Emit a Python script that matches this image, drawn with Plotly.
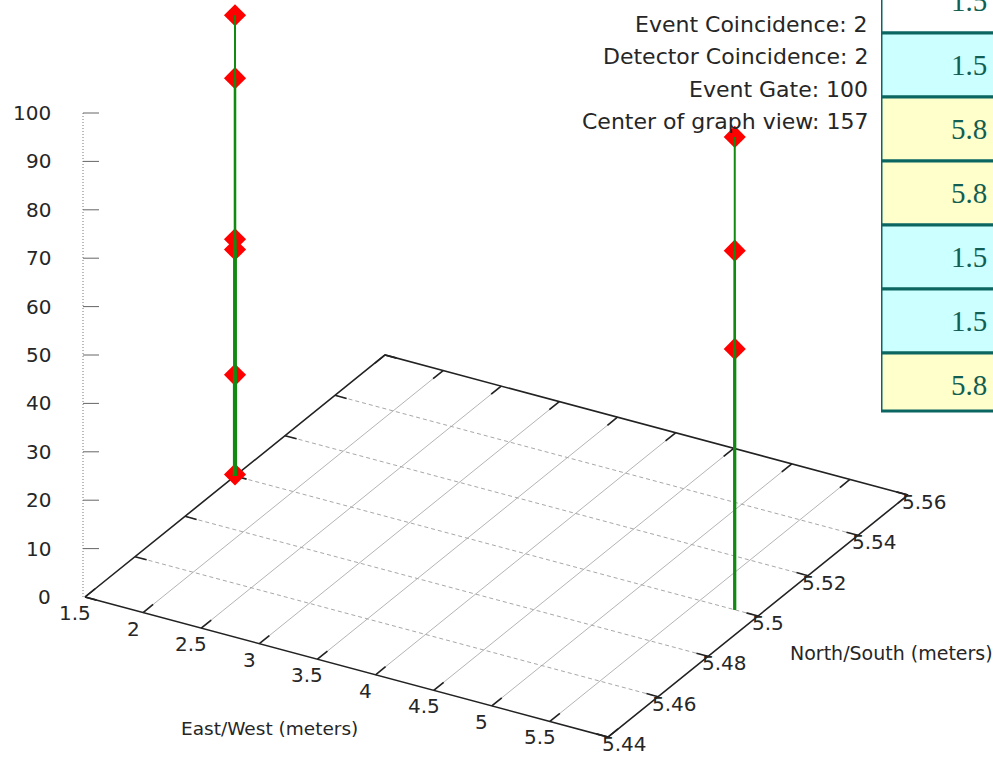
import plotly.graph_objects as go

# ---------------- data ----------------
ew_ticks = [1.5, 2, 2.5, 3, 3.5, 4, 4.5, 5, 5.5, 6]
ew_labels = ["1.5", "2", "2.5", "3", "3.5", "4", "4.5", "5", "5.5", ""]
ns_ticks = [5.44, 5.46, 5.48, 5.5, 5.52, 5.54, 5.56]
ns_labels = ["5.44", "5.46", "5.48", "5.5", "5.52", "5.54", "5.56"]
z_ticks = [0, 10, 20, 30, 40, 50, 60, 70, 80, 90, 100]
z_labels = ["0", "10", "20", "30", "40", "50", "60", "70", "80", "90", "100"]

# detected events: east/west position, north/south position, value
event_ew = [1.5, 1.5, 1.5, 1.5, 1.5, 1.5, 5.8, 5.8, 5.8]
event_ns = [5.5, 5.5, 5.5, 5.5, 5.5, 5.5, 5.5, 5.5, 5.5]
event_val = [95.2, 82.2, 48.9, 46.8, 20.9, 0.3, 97.7, 74.2, 53.9]

info_lines = [
    "Event Coincidence: 2",
    "Detector Coincidence: 2",
    "Event Gate: 100",
    "Center of graph view: 157",
]

table_values = ["1.5", "1.5", "5.8", "5.8", "1.5", "1.5", "5.8"]
table_fills = ["#ffffff", "#ccffff", "#ffffcc", "#ffffcc", "#ccffff", "#ccffff", "#ffffcc"]

# ---------------- view (oblique projection of the 3-D box) ----------------
EW_MIN, EW_MAX = 1.5, 6.0
NS_MIN, NS_MAX = 5.44, 5.56
Z_MIN, Z_MAX = 0.0, 100.0
ORIGIN = (85.0, 597.0)
EW_VEC = (523.0, 140.0)
NS_VEC = (300.0, -242.0)
Z_VEC = (0.0, -484.0)

W, H = 993, 757
FONT = "DejaVu Sans"
TXT = "#262626"


def proj(x, y, z=0.0):
    fx = (x - EW_MIN) / (EW_MAX - EW_MIN)
    fy = (y - NS_MIN) / (NS_MAX - NS_MIN)
    fz = (z - Z_MIN) / (Z_MAX - Z_MIN)
    px = ORIGIN[0] + fx * EW_VEC[0] + fy * NS_VEC[0] + fz * Z_VEC[0]
    py = ORIGIN[1] + fx * EW_VEC[1] + fy * NS_VEC[1] + fz * Z_VEC[1]
    return px, py


def segs(pairs):
    xs, ys = [], []
    for a, b in pairs:
        xs += [a[0], b[0], None]
        ys += [a[1], b[1], None]
    return xs, ys


fig = go.Figure()

# floor grid: solid lines across north/south, dashed lines across east/west
gx, gy = segs([(proj(t, NS_MIN), proj(t, NS_MAX)) for t in ew_ticks[1:-1]])
fig.add_trace(go.Scatter(x=gx, y=gy, mode="lines", hoverinfo="skip",
                         line=dict(color="#b4b4b4", width=1)))
gx, gy = segs([(proj(EW_MIN, t), proj(EW_MAX, t)) for t in ns_ticks[1:-1]])
fig.add_trace(go.Scatter(x=gx, y=gy, mode="lines", hoverinfo="skip",
                         line=dict(color="#a8a8a8", width=1, dash="4px,3px")))

# floor border
corners = [proj(EW_MIN, NS_MIN), proj(EW_MAX, NS_MIN), proj(EW_MAX, NS_MAX),
           proj(EW_MIN, NS_MAX), proj(EW_MIN, NS_MIN)]
fig.add_trace(go.Scatter(x=[c[0] for c in corners], y=[c[1] for c in corners],
                         mode="lines", hoverinfo="skip",
                         line=dict(color="#222222", width=1.6)))

# tick marks on all four floor edges
tick_pairs = []
for t in ew_ticks:
    tick_pairs.append((proj(t, NS_MIN), proj(t, NS_MIN + 0.004)))
    tick_pairs.append((proj(t, NS_MAX), proj(t, NS_MAX - 0.004)))
for t in ns_ticks:
    tick_pairs.append((proj(EW_MAX, t), proj(EW_MAX - 0.1, t)))
    tick_pairs.append((proj(EW_MIN, t), proj(EW_MIN + 0.1, t)))
gx, gy = segs(tick_pairs)
fig.add_trace(go.Scatter(x=gx, y=gy, mode="lines", hoverinfo="skip",
                         line=dict(color="#222222", width=1.6)))

# vertical value axis (dotted) with its tick marks
z0 = proj(EW_MIN, NS_MIN, Z_MIN)
z1 = proj(EW_MIN, NS_MIN, Z_MAX)
fig.add_trace(go.Scatter(x=[z0[0] - 2, z1[0] - 2], y=[z0[1], z1[1]], mode="lines",
                         hoverinfo="skip",
                         line=dict(color="#777777", width=1, dash="1px,2px")))
zt = []
for t in z_ticks[1:]:
    p = proj(EW_MIN, NS_MIN, t)
    zt.append(((p[0] - 2, p[1]), (p[0] + 14, p[1])))
gx, gy = segs(zt)
fig.add_trace(go.Scatter(x=gx, y=gy, mode="lines", hoverinfo="skip",
                         line=dict(color="#666666", width=1)))

# event markers
pts = [proj(x, y, v) for x, y, v in zip(event_ew, event_ns, event_val)]
fig.add_trace(go.Scatter(x=[p[0] for p in pts], y=[p[1] for p in pts], mode="markers",
                         hoverinfo="skip",
                         marker=dict(symbol="diamond", size=17, color="#ff0000",
                                     line=dict(width=0))))

# impulses from the floor; stacked impulses at one spot read heavier lower down
groups = {}
for x, y, v in zip(event_ew, event_ns, event_val):
    groups.setdefault((x, y), []).append(v)
for (x, y), vals in groups.items():
    for rank, v in enumerate(sorted(vals, reverse=True)):
        a, b = proj(x, y, 0), proj(x, y, v)
        fig.add_trace(go.Scatter(x=[a[0], b[0]], y=[a[1], b[1]], mode="lines",
                                 hoverinfo="skip",
                                 line=dict(color="#108a10", width=2.0 + 0.55 * rank)))

annotations = []


def label(x, y, text, size=20, xanchor="center", **kw):
    annotations.append(dict(x=x, y=y, xref="x", yref="y", text=text, showarrow=False,
                            xanchor=xanchor, yanchor="middle",
                            font=dict(family=FONT, size=size, color=TXT), **kw))


for t, s in zip(ew_ticks, ew_labels):
    if s:
        p = proj(t, NS_MIN)
        label(p[0] - 10, p[1] + 16, s)
for t, s in zip(ns_ticks, ns_labels):
    p = proj(EW_MAX, t)
    label(p[0] - 8, p[1] + 7, s, xanchor="left")
for t, s in zip(z_ticks, z_labels):
    p = proj(EW_MIN, NS_MIN, t)
    label(p[0] - 32, p[1], s, xanchor="right")

mid_ew = proj((EW_MIN + EW_MAX) / 2, NS_MIN)
label(mid_ew[0] - 77, mid_ew[1] + 61, "East/West (meters)", size=18.5)
mid_ns = proj(EW_MAX, (NS_MIN + NS_MAX) / 2)
label(mid_ns[0] + 30, mid_ns[1] + 37, "North/South (meters)", size=19, xanchor="left")

for i, line in enumerate(info_lines):
    label(870, 24.5 + 32.4 * i, line, size=22, xanchor="right")

# side table of event positions (one row per unit on its own axis)
ROW_PX = 64.0
ROW_TOP = 1 - 33.0 / ROW_PX
ROW_BOTTOM = ROW_TOP + H / ROW_PX
LAST_ROW = 58.0 / ROW_PX
shapes = []
n_rows = len(table_values)
for i, (v, c) in enumerate(zip(table_values, table_fills)):
    y1 = i + (LAST_ROW if i == n_rows - 1 else 1)
    shapes.append(dict(type="rect", xref="x2", yref="y2", x0=0, x1=1.5, y0=i, y1=y1,
                       fillcolor=c, line=dict(color="#0b6662", width=3), layer="below"))
    annotations.append(dict(x=0.965, y=i + 0.5, xref="x2", yref="y2", text=v,
                            showarrow=False, xanchor="right", yanchor="middle",
                            font=dict(family="Liberation Serif", size=29, color="#135e52")))

fig.update_layout(
    width=W, height=H,
    margin=dict(l=0, r=0, t=0, b=0),
    paper_bgcolor="white", plot_bgcolor="rgba(0,0,0,0)",
    showlegend=False,
    xaxis=dict(domain=[0, 1], range=[0, W], visible=False, fixedrange=True),
    yaxis=dict(domain=[0, 1], range=[H, 0], visible=False, fixedrange=True),
    xaxis2=dict(domain=[881 / W, 1], range=[0, 1], visible=False, anchor="y2"),
    yaxis2=dict(domain=[0, 1], range=[ROW_BOTTOM, ROW_TOP], visible=False, anchor="x2"),
    shapes=shapes,
    annotations=annotations,
)

fig.write_html("out.html")
